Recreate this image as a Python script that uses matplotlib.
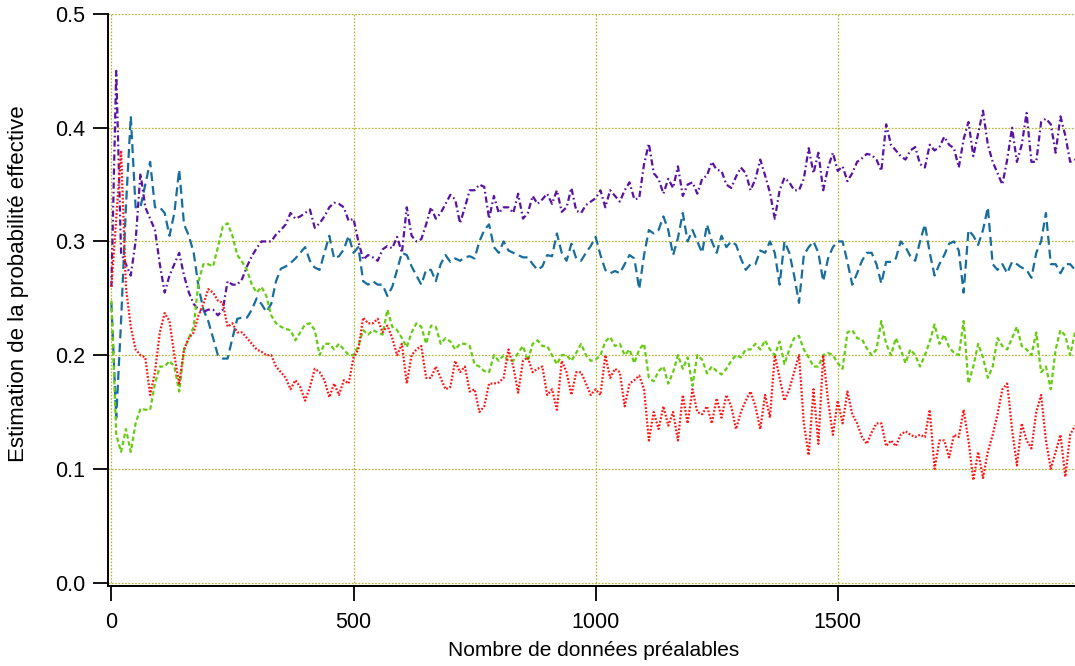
import numpy as np
import matplotlib
matplotlib.use("Agg")
import matplotlib.pyplot as plt

plt.rcParams['font.family'] = ['Liberation Sans', 'DejaVu Sans']
plt.rcParams['lines.scale_dashes'] = False

# nombre de données préalables (pas de 10)
n_prior = np.arange(0, 2000, 10)

# estimations de la probabilité effective, une liste par courbe
p_violet = [
    0.26, 0.45, 0.29, 0.28, 0.27, 0.30, 0.36, 0.33, 0.32, 0.31,
    0.28, 0.255, 0.27, 0.28, 0.29, 0.27, 0.255, 0.245, 0.24, 0.238,
    0.24, 0.24, 0.235, 0.24, 0.265, 0.262, 0.262, 0.267, 0.278, 0.287,
    0.294, 0.30, 0.30, 0.30, 0.306, 0.31, 0.315, 0.325, 0.32, 0.322,
    0.325, 0.328, 0.312, 0.316, 0.322, 0.33, 0.334, 0.333, 0.33, 0.318,
    0.32, 0.30, 0.284, 0.288, 0.286, 0.283, 0.293, 0.296, 0.294, 0.304,
    0.29, 0.33, 0.305, 0.30, 0.302, 0.315, 0.33, 0.32, 0.325, 0.333,
    0.341, 0.337, 0.316, 0.33, 0.345, 0.345, 0.35, 0.348, 0.32, 0.34,
    0.325, 0.33, 0.33, 0.325, 0.342, 0.32, 0.325, 0.34, 0.333, 0.337,
    0.342, 0.333, 0.345, 0.326, 0.33, 0.347, 0.327, 0.325, 0.332, 0.335,
    0.338, 0.345, 0.33, 0.345, 0.34, 0.335, 0.345, 0.352, 0.337, 0.338,
    0.368, 0.386, 0.36, 0.355, 0.342, 0.355, 0.347, 0.366, 0.34, 0.35,
    0.352, 0.342, 0.355, 0.358, 0.37, 0.363, 0.362, 0.35, 0.347, 0.357,
    0.365, 0.36, 0.345, 0.355, 0.372, 0.358, 0.343, 0.32, 0.345, 0.356,
    0.352, 0.345, 0.345, 0.355, 0.382, 0.36, 0.378, 0.345, 0.365, 0.378,
    0.362, 0.366, 0.353, 0.36, 0.37, 0.373, 0.377, 0.376, 0.372, 0.362,
    0.403, 0.385, 0.38, 0.375, 0.372, 0.38, 0.383, 0.368, 0.365, 0.385,
    0.38, 0.383, 0.392, 0.385, 0.382, 0.365, 0.39, 0.405, 0.375, 0.395,
    0.415, 0.385, 0.37, 0.36, 0.35, 0.372, 0.40, 0.37, 0.385, 0.413,
    0.37, 0.37, 0.405, 0.408, 0.403, 0.378, 0.41, 0.393, 0.37, 0.372,
]

p_bleu = [
    0.246, 0.145, 0.23, 0.33, 0.41, 0.33, 0.33, 0.35, 0.37, 0.33,
    0.33, 0.325, 0.305, 0.325, 0.363, 0.315, 0.305, 0.29, 0.26, 0.24,
    0.23, 0.215, 0.20, 0.197, 0.197, 0.215, 0.232, 0.233, 0.233, 0.24,
    0.25, 0.245, 0.238, 0.245, 0.265, 0.276, 0.278, 0.281, 0.285, 0.29,
    0.295, 0.283, 0.277, 0.275, 0.29, 0.305, 0.285, 0.287, 0.293, 0.305,
    0.29, 0.295, 0.265, 0.262, 0.265, 0.262, 0.262, 0.252, 0.26, 0.275,
    0.29, 0.288, 0.278, 0.27, 0.262, 0.275, 0.275, 0.265, 0.28, 0.288,
    0.282, 0.285, 0.283, 0.286, 0.287, 0.285, 0.30, 0.31, 0.315, 0.295,
    0.29, 0.30, 0.292, 0.29, 0.288, 0.286, 0.286, 0.28, 0.275, 0.278,
    0.288, 0.287, 0.307, 0.29, 0.283, 0.298, 0.285, 0.283, 0.29, 0.296,
    0.304, 0.288, 0.275, 0.272, 0.274, 0.272, 0.28, 0.288, 0.285, 0.258,
    0.288, 0.31, 0.307, 0.31, 0.322, 0.31, 0.288, 0.303, 0.325, 0.30,
    0.31, 0.30, 0.29, 0.315, 0.30, 0.29, 0.305, 0.295, 0.30, 0.297,
    0.285, 0.275, 0.28, 0.28, 0.292, 0.29, 0.30, 0.29, 0.262, 0.30,
    0.29, 0.27, 0.246, 0.288, 0.295, 0.30, 0.29, 0.265, 0.285, 0.295,
    0.30, 0.30, 0.282, 0.262, 0.272, 0.283, 0.29, 0.29, 0.28, 0.263,
    0.282, 0.282, 0.285, 0.30, 0.295, 0.287, 0.283, 0.30, 0.315, 0.29,
    0.27, 0.28, 0.288, 0.298, 0.30, 0.292, 0.255, 0.31, 0.305, 0.297,
    0.31, 0.33, 0.28, 0.275, 0.28, 0.272, 0.282, 0.28, 0.277, 0.275,
    0.268, 0.29, 0.30, 0.325, 0.28, 0.28, 0.272, 0.28, 0.28, 0.275,
]

p_vert = [
    0.248, 0.13, 0.115, 0.135, 0.115, 0.14, 0.153, 0.152, 0.152, 0.175,
    0.19, 0.19, 0.195, 0.19, 0.168, 0.205, 0.215, 0.225, 0.265, 0.28,
    0.28, 0.278, 0.295, 0.313, 0.316, 0.305, 0.288, 0.282, 0.275, 0.262,
    0.255, 0.26, 0.252, 0.235, 0.228, 0.225, 0.223, 0.222, 0.213, 0.22,
    0.227, 0.228, 0.222, 0.20, 0.21, 0.21, 0.205, 0.21, 0.205, 0.20,
    0.20, 0.208, 0.222, 0.218, 0.222, 0.22, 0.218, 0.24, 0.225, 0.222,
    0.215, 0.207, 0.22, 0.228, 0.225, 0.21, 0.226, 0.225, 0.21, 0.215,
    0.212, 0.205, 0.21, 0.21, 0.208, 0.192, 0.19, 0.186, 0.185, 0.20,
    0.195, 0.20, 0.195, 0.195, 0.202, 0.208, 0.195, 0.21, 0.213, 0.208,
    0.208, 0.20, 0.192, 0.20, 0.20, 0.195, 0.202, 0.21, 0.20, 0.195,
    0.196, 0.20, 0.212, 0.216, 0.208, 0.21, 0.20, 0.205, 0.193, 0.205,
    0.21, 0.18, 0.177, 0.186, 0.19, 0.175, 0.185, 0.20, 0.188, 0.198,
    0.173, 0.20, 0.196, 0.184, 0.19, 0.186, 0.183, 0.188, 0.195, 0.20,
    0.198, 0.205, 0.205, 0.21, 0.205, 0.213, 0.205, 0.20, 0.212, 0.192,
    0.205, 0.215, 0.217, 0.205, 0.198, 0.19, 0.19, 0.20, 0.202, 0.20,
    0.193, 0.188, 0.22, 0.222, 0.215, 0.214, 0.206, 0.20, 0.205, 0.23,
    0.21, 0.20, 0.215, 0.205, 0.193, 0.205, 0.20, 0.19, 0.20, 0.212,
    0.227, 0.21, 0.218, 0.207, 0.202, 0.20, 0.23, 0.175, 0.19, 0.21,
    0.198, 0.18, 0.19, 0.215, 0.208, 0.205, 0.215, 0.225, 0.208, 0.205,
    0.20, 0.22, 0.185, 0.19, 0.17, 0.205, 0.222, 0.217, 0.20, 0.22,
]

p_rouge = [
    0.26, 0.32, 0.38, 0.26, 0.225, 0.205, 0.20, 0.198, 0.165, 0.185,
    0.22, 0.237, 0.23, 0.20, 0.175, 0.205, 0.215, 0.22, 0.235, 0.245,
    0.258, 0.255, 0.248, 0.246, 0.225, 0.228, 0.22, 0.22, 0.215, 0.21,
    0.205, 0.203, 0.20, 0.20, 0.19, 0.185, 0.18, 0.17, 0.178, 0.172,
    0.16, 0.172, 0.188, 0.185, 0.178, 0.163, 0.175, 0.165, 0.178, 0.175,
    0.198, 0.205, 0.233, 0.228, 0.228, 0.232, 0.22, 0.226, 0.215, 0.20,
    0.21, 0.175, 0.20, 0.205, 0.208, 0.18, 0.18, 0.19, 0.18, 0.17,
    0.172, 0.195, 0.185, 0.19, 0.168, 0.17, 0.15, 0.155, 0.175, 0.175,
    0.176, 0.18, 0.205, 0.19, 0.167, 0.195, 0.198, 0.185, 0.188, 0.19,
    0.165, 0.17, 0.152, 0.195, 0.185, 0.165, 0.185, 0.185, 0.175, 0.165,
    0.17, 0.165, 0.20, 0.18, 0.188, 0.185, 0.155, 0.175, 0.178, 0.182,
    0.17, 0.125, 0.15, 0.135, 0.155, 0.138, 0.15, 0.125, 0.165, 0.14,
    0.17, 0.15, 0.148, 0.155, 0.14, 0.162, 0.145, 0.165, 0.155, 0.135,
    0.15, 0.16, 0.168, 0.155, 0.135, 0.165, 0.145, 0.20, 0.18, 0.16,
    0.17, 0.185, 0.20, 0.14, 0.112, 0.17, 0.122, 0.20, 0.16, 0.13,
    0.16, 0.14, 0.168, 0.148, 0.14, 0.128, 0.122, 0.132, 0.14, 0.14,
    0.12, 0.125, 0.12, 0.13, 0.133, 0.13, 0.128, 0.13, 0.128, 0.152,
    0.10, 0.125, 0.125, 0.11, 0.13, 0.128, 0.152, 0.125, 0.09, 0.115,
    0.092, 0.115, 0.13, 0.148, 0.17, 0.175, 0.135, 0.103, 0.14, 0.125,
    0.118, 0.15, 0.165, 0.125, 0.10, 0.115, 0.13, 0.093, 0.13, 0.138,
]

fig = plt.figure(figsize=(10.75, 6.66), dpi=100)
ax = fig.add_axes([108 / 1075, 80 / 666, 967 / 1075, 572 / 666])

ax.plot(n_prior, p_bleu, color='#176d9d', lw=1.6, dashes=(6.5, 3.5))
ax.plot(n_prior, p_violet, color='#5a12a2', lw=1.6, dashes=(4.5, 2.2, 1.2, 2.2))
ax.plot(n_prior, p_vert, color='#66cc11', lw=1.6, dashes=(3.2, 2.0))
ax.plot(n_prior, p_rouge, color='#ff1414', lw=1.6, dashes=(1.3, 1.3))

ax.set_xlim(-7, 1990)
ax.set_ylim(-0.003, 0.5)
ax.set_xticks([0, 500, 1000, 1500])
ax.set_yticks([0.0, 0.1, 0.2, 0.3, 0.4, 0.5])
ax.yaxis.set_major_formatter(matplotlib.ticker.FormatStrFormatter('%.1f'))

ax.grid(True, color='#b4b42c', linestyle=(0, (1.2, 1.2)), linewidth=0.9)
ax.set_axisbelow(True)

for side in ('top', 'right'):
    ax.spines[side].set_visible(False)
for side in ('left', 'bottom'):
    ax.spines[side].set_linewidth(1.4)

ax.tick_params(axis='both', direction='out', length=11, width=1.3,
               labelsize=15.5)
ax.tick_params(axis='x', pad=8)
ax.tick_params(axis='y', pad=5.5)

ax.set_xlabel('Nombre de données préalables', fontsize=15)
ax.set_ylabel('Estimation de la probabilité effective', fontsize=16)
ax.xaxis.label.set_va('center')
ax.yaxis.label.set_va('center')
ax.xaxis.set_label_coords((594 - 108) / 967, (586 - 651) / 572)
ax.yaxis.set_label_coords((18 - 108) / 967, (586 - 284) / 572)

fig.savefig('out.png', dpi=100)
